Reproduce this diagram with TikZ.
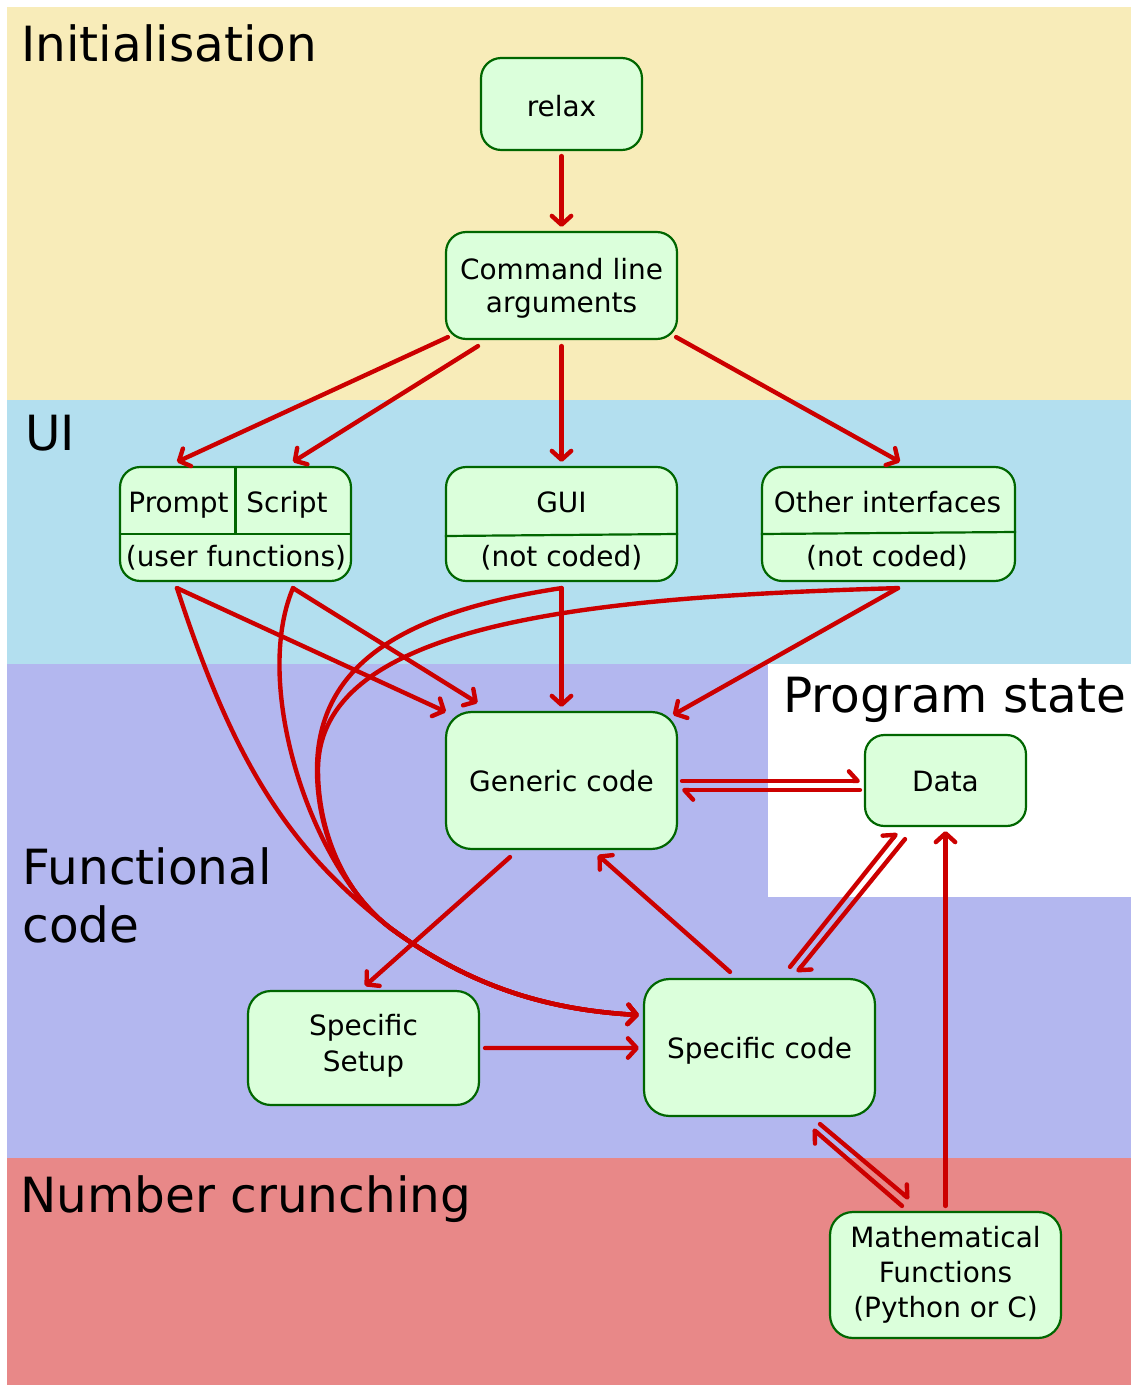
\documentclass[tikz,border=0pt]{standalone}
\usepackage{fontspec}
\setmainfont{DejaVu Sans}
\usetikzlibrary{arrows.meta,calc}
\definecolor{initband}{HTML}{F8ECB9}
\definecolor{uiband}{HTML}{B3DFEF}
\definecolor{funcband}{HTML}{B3B7EF}
\definecolor{numband}{HTML}{E88888}
\definecolor{boxfill}{HTML}{DBFFDB}
\definecolor{boxline}{HTML}{006600}
\definecolor{flowred}{HTML}{CC0000}
\begin{document}
\begin{tikzpicture}[x=0.02cm,y=-0.02cm,
  box/.style={draw=boxline, fill=boxfill, line width=1.25pt, rounded corners=11.5pt, inner sep=0pt},
  txt/.style={inner sep=0pt, anchor=base, font=\fontsize{15.9}{19}\selectfont},
  band/.style={inner sep=0pt, anchor=base west, font=\fontsize{27.6}{33}\selectfont},
  flow/.style={draw=flowred, line width=2.5pt, line cap=round, line join=round,
    -{Straight Barb[length=5pt,width=11pt,round]}},
  half/.style={draw=flowred, line width=2.5pt, line cap=round, line join=round,
    -{Straight Barb[left,length=5pt,width=11pt,round]}},
  divider/.style={draw=boxline, line width=1.25pt},
]
\useasboundingbox (0,0) rectangle (1131,1385);

% layers of the program
\fill[initband] (7,7) rectangle (1131,400);
\fill[uiband] (7,400) rectangle (1131,664);
\fill[funcband] (7,664) rectangle (1131,1158);
\fill[numband] (7,1158) rectangle (1131,1385);
\fill[white] (768,664) rectangle (1131,897);

\node[band] (lblinit) at (21,62) {Initialisation};
\node[band] (lblui) at (25,450) {UI};
\node[band] (lblfunc) at (22,884) {Functional};
\node[band] (lblcode) at (22,942) {code};
\node[band] (lblnum) at (20,1212) {Number crunching};
\node[band] (lblstate) at (783,712) {Program state};

% boxes
\node[box, minimum width=3.22cm, minimum height=1.84cm] (relax) at (561.5,104) {};
\node[box, minimum width=4.62cm, minimum height=2.14cm] (cmd) at (561.5,285.5) {};
\node[box, minimum width=4.62cm, minimum height=2.28cm] (ps) at (235.5,524) {};
\node[box, minimum width=4.62cm, minimum height=2.28cm] (gui) at (561.5,524) {};
\node[box, minimum width=5.06cm, minimum height=2.28cm] (other) at (888.5,524) {};
\node[box, rounded corners=14.5pt, minimum width=4.62cm, minimum height=2.74cm] (generic) at (561.5,780.5) {};
\node[box, rounded corners=11pt, minimum width=3.22cm, minimum height=1.82cm] (data) at (945.5,780.5) {};
\node[box, rounded corners=13pt, minimum width=4.62cm, minimum height=2.28cm] (setup) at (363.5,1048) {};
\node[box, rounded corners=14.5pt, minimum width=4.62cm, minimum height=2.74cm] (spec) at (759.5,1047.5) {};
\node[box, rounded corners=13pt, minimum width=4.62cm, minimum height=2.52cm] (math) at (945.5,1275) {};

% box texts, set on their baselines
\node[txt] (trelax) at ([shift={(0,12.5)}]relax.center) {relax};
\node[txt] (tcmda) at ([shift={(0,-5.5)}]cmd.center) {Command line};
\node[txt] (tcmdb) at ([shift={(0,27.5)}]cmd.center) {arguments};
\node[txt] (tgeneric) at ([shift={(0,10.5)}]generic.center) {Generic code};
\node[txt] (tdata) at ([shift={(0,11)}]data.center) {Data};
\node[txt] (tsetupa) at ([shift={(0,-12.3)}]setup.center) {Specific};
\node[txt] (tsetupb) at ([shift={(0,23)}]setup.center) {Setup};
\node[txt] (tspec) at ([shift={(0,10.8)}]spec.center) {Specific code};
\node[txt] (tmatha) at ([shift={(0,-27.5)}]math.center) {Mathematical};
\node[txt] (tmathb) at ([shift={(0,7.5)}]math.center) {Functions};
\node[txt] (tmathc) at ([shift={(0,42.5)}]math.center) {(Python or C)};

% split boxes of the user interfaces
\draw[divider] ([shift={(0,10)}]ps.west) -- ([shift={(0,10)}]ps.east);
\draw[divider] (ps.north) -- ([shift={(0,10)}]ps.center);
\draw[divider] ([shift={(0,12)}]gui.west) -- ([shift={(0,10)}]gui.east);
\draw[divider] ([shift={(0,10)}]other.west) -- ([shift={(0,8)}]other.east);
\node[txt] (tprompt) at ([shift={(-57,-12)}]ps.center) {Prompt};
\node[txt] (tscript) at ([shift={(51.5,-12)}]ps.center) {Script};
\node[txt] (tuser) at ([shift={(0.5,42)}]ps.center) {(user functions)};
\node[txt] (tgui) at ([shift={(0,-12)}]gui.center) {GUI};
\node[txt] (tguinc) at ([shift={(0,42)}]gui.center) {(not coded)};
\node[txt] (tother) at ([shift={(-1,-12)}]other.center) {Other interfaces};
\node[txt] (tothernc) at ([shift={(-1.5,42)}]other.center) {(not coded)};

% start-up
\draw[flow] ([shift={(0,5)}]relax.south) -- ([shift={(0,-4)}]cmd.north);
\draw[flow] ([shift={(3,-3)}]cmd.south west) -- ([shift={(-58.5,-4)}]ps.north);
\draw[flow] ([shift={(-83.5,6)}]cmd.south) -- ([shift={(57.5,-4)}]ps.north);
\draw[flow] ([shift={(0,6)}]cmd.south) -- ([shift={(0,-4)}]gui.north);
\draw[flow] ([shift={(-2,-3)}]cmd.south east) -- ([shift={(11.5,-4)}]other.north);

% interfaces to generic code
\draw[flow] ([shift={(-58.5,6)}]ps.south) -- ([shift={(1,1)}]generic.north west);
\draw[flow] ([shift={(57.5,6)}]ps.south) -- ([shift={(-84,-8)}]generic.north);
\draw[flow] ([shift={(0,6)}]gui.south) -- ([shift={(0,-4)}]generic.north);
\draw[flow] ([shift={(9.5,6)}]other.south) -- ([shift={(-5,4)}]generic.north east);

% interfaces to specific code: the four curves join into one before the box
\draw[flow] ([shift={(-58.5,6)}]ps.south) .. controls (235,767) and (291,851) .. (393,930)
  .. controls (473,988) and (550,1010) .. ([shift={(-4,-32.5)}]spec.west);
\draw[flow] ([shift={(57.5,6)}]ps.south) .. controls (251,687) and (313,872) .. (393,930)
  .. controls (473,988) and (550,1010) .. ([shift={(-4,-32.5)}]spec.west);
\draw[flow] ([shift={(0,6)}]gui.south) .. controls (411,611) and (317,660) .. (317,770)
  .. controls (317,830) and (343,894) .. (393,930)
  .. controls (473,988) and (550,1010) .. ([shift={(-4,-32.5)}]spec.west);
\draw[flow] ([shift={(9.5,6)}]other.south) .. controls (600,597) and (318,620) .. (318,770)
  .. controls (318,830) and (343,894) .. (393,930)
  .. controls (473,988) and (550,1010) .. ([shift={(-4,-32.5)}]spec.west);

% functional code
\draw[flow] ([shift={(-51.5,7)}]generic.south) -- ([shift={(1.5,-4)}]setup.north);
\draw[flow] ([shift={(5,0)}]setup.east) -- ([shift={(-4,0.5)}]spec.west);
\draw[flow] ([shift={(-29.5,-6)}]spec.north) -- ([shift={(36.5,5)}]generic.south);

% exchanges with the program state
\draw[half] ([shift={(4,0.5)}]generic.east) -- ([shift={(-4,0.5)}]data.west);
\draw[half] ([shift={(-4,9.5)}]data.west) -- ([shift={(4,9.5)}]generic.east);
\draw[half] ([shift={(30.5,-11)}]spec.north) -- ([shift={(-48.5,6)}]data.south);
\draw[half] ([shift={(-40.5,12)}]data.south) -- ([shift={(37.5,-6)}]spec.north);
\draw[flow] ([shift={(0,-5)}]math.north) -- ([shift={(0,4)}]data.south);

% number crunching
\draw[half] ([shift={(60.5,7)}]spec.south) -- ([shift={(-36.5,-12)}]math.north);
\draw[half] ([shift={(-43.5,-5)}]math.north) -- ([shift={(53.5,12)}]spec.south);
\end{tikzpicture}
\end{document}
